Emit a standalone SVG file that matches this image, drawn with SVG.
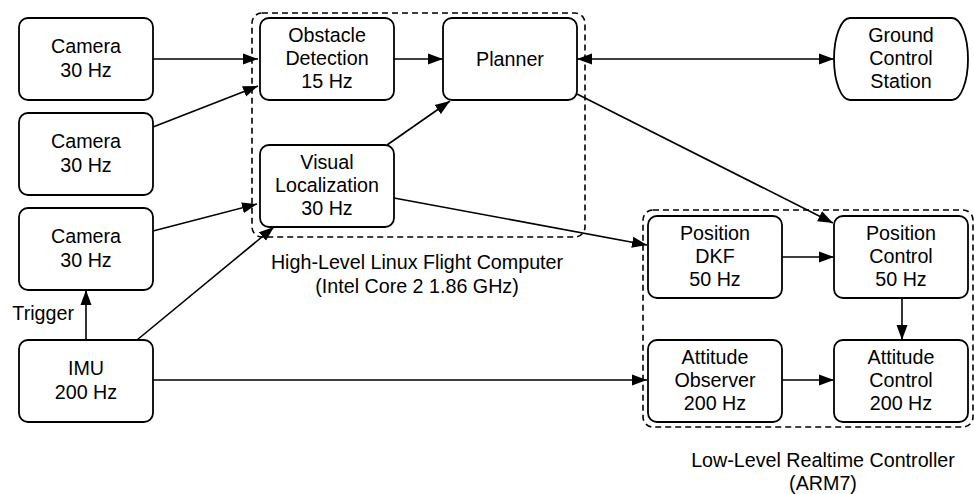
<svg xmlns="http://www.w3.org/2000/svg" width="974" height="494" viewBox="0 0 974 494">
<defs>
<marker id="ah" markerUnits="userSpaceOnUse" markerWidth="16" markerHeight="12" refX="15" refY="6" orient="auto-start-reverse">
<path d="M0,0.5 L15,6 L0,11.5 Z" fill="#000"/>
</marker>
<style>
.box{fill:#fff;stroke:#000;stroke-width:1.8}
.grp{fill:none;stroke:#000;stroke-width:1.6;stroke-dasharray:6 4}
.t{font-family:"Liberation Sans",Arial,sans-serif;font-size:19.7px;text-anchor:middle;fill:#000}
.c{fill:none;stroke:#000;stroke-width:1.6}
</style>
</defs>
<rect width="974" height="494" fill="#fff"/>
<g id="highlevel">
<rect class="grp" x="252" y="13" width="333" height="224" rx="10"/>
<text class="t" x="417" y="269">High-Level Linux Flight Computer</text>
<text class="t" x="417" y="293">(Intel Core 2 1.86 GHz)</text>
</g>
<g id="lowlevel">
<rect class="grp" x="643" y="210" width="330" height="217" rx="10"/>
<text class="t" x="823" y="467">Low-Level Realtime Controller</text>
<text class="t" x="823" y="490">(ARM7)</text>
</g>
<g id="connectors">
<line class="c" x1="153" y1="59" x2="258" y2="59" marker-end="url(#ah)"/>
<line class="c" x1="153" y1="127" x2="258" y2="86" marker-end="url(#ah)"/>
<line class="c" x1="153" y1="231" x2="257" y2="204" marker-end="url(#ah)"/>
<line class="c" x1="137" y1="340" x2="274" y2="227" marker-end="url(#ah)"/>
<line class="c" x1="86" y1="340" x2="86" y2="290" marker-end="url(#ah)"/>
<line class="c" x1="394" y1="59" x2="443" y2="59" marker-end="url(#ah)"/>
<line class="c" x1="387" y1="145" x2="450" y2="101" marker-end="url(#ah)"/>
<line class="c" x1="394" y1="198" x2="647" y2="245" marker-end="url(#ah)"/>
<line class="c" x1="577" y1="59" x2="834" y2="59" marker-start="url(#ah)" marker-end="url(#ah)"/>
<line class="c" x1="577" y1="94" x2="833" y2="223" marker-end="url(#ah)"/>
<line class="c" x1="782" y1="257" x2="834" y2="257" marker-end="url(#ah)"/>
<line class="c" x1="902" y1="298" x2="902" y2="340" marker-end="url(#ah)"/>
<line class="c" x1="782" y1="380" x2="834" y2="380" marker-end="url(#ah)"/>
<line class="c" x1="153" y1="380" x2="647" y2="380" marker-end="url(#ah)"/>
<text class="t" x="74" y="320" style="text-anchor:end">Trigger</text>
</g>
<g id="camera1">
<rect class="box" x="19" y="18" width="134" height="82" rx="9"/>
<text class="t" x="86" y="53">Camera</text>
<text class="t" x="86" y="77">30 Hz</text>
</g>
<g id="camera2">
<rect class="box" x="19" y="113" width="134" height="82" rx="9"/>
<text class="t" x="86" y="148">Camera</text>
<text class="t" x="86" y="172">30 Hz</text>
</g>
<g id="camera3">
<rect class="box" x="19" y="208" width="134" height="82" rx="9"/>
<text class="t" x="86" y="243">Camera</text>
<text class="t" x="86" y="267">30 Hz</text>
</g>
<g id="imu">
<rect class="box" x="19" y="340" width="134" height="82" rx="9"/>
<text class="t" x="86" y="375">IMU</text>
<text class="t" x="86" y="399">200 Hz</text>
</g>
<g id="obstacle">
<rect class="box" x="260" y="18" width="134" height="82" rx="9"/>
<text class="t" x="327" y="42">Obstacle</text>
<text class="t" x="327" y="65">Detection</text>
<text class="t" x="327" y="88">15 Hz</text>
</g>
<g id="planner">
<rect class="box" x="443" y="18" width="134" height="82" rx="9"/>
<text class="t" x="510" y="66">Planner</text>
</g>
<g id="visual">
<rect class="box" x="260" y="145" width="134" height="82" rx="9"/>
<text class="t" x="327" y="169">Visual</text>
<text class="t" x="327" y="192">Localization</text>
<text class="t" x="327" y="215">30 Hz</text>
</g>
<g id="gcs">
<path class="box" d="M850,18 H952 A16,41 0 0 1 952,100 H850 A16,41 0 0 1 850,18 Z"/>
<text class="t" x="901" y="42">Ground</text>
<text class="t" x="901" y="65">Control</text>
<text class="t" x="901" y="88">Station</text>
</g>
<g id="dkf">
<rect class="box" x="648" y="216" width="134" height="82" rx="9"/>
<text class="t" x="715" y="240">Position</text>
<text class="t" x="715" y="263">DKF</text>
<text class="t" x="715" y="286">50 Hz</text>
</g>
<g id="poscontrol">
<rect class="box" x="834" y="216" width="134" height="82" rx="9"/>
<text class="t" x="901" y="240">Position</text>
<text class="t" x="901" y="263">Control</text>
<text class="t" x="901" y="286">50 Hz</text>
</g>
<g id="attobserver">
<rect class="box" x="648" y="340" width="134" height="82" rx="9"/>
<text class="t" x="715" y="364">Attitude</text>
<text class="t" x="715" y="387">Observer</text>
<text class="t" x="715" y="410">200 Hz</text>
</g>
<g id="attcontrol">
<rect class="box" x="834" y="340" width="134" height="82" rx="9"/>
<text class="t" x="901" y="364">Attitude</text>
<text class="t" x="901" y="387">Control</text>
<text class="t" x="901" y="410">200 Hz</text>
</g>
</svg>
